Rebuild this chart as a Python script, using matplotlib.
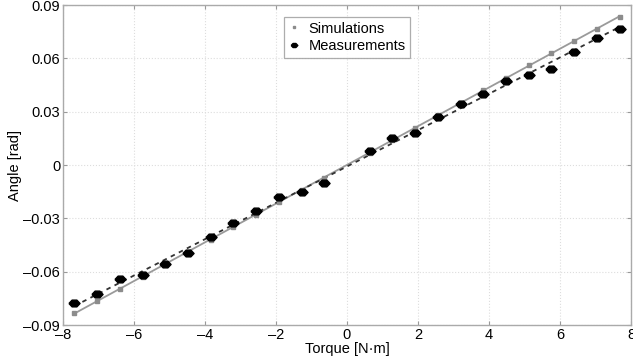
import numpy as np
import matplotlib
matplotlib.use("Agg")
import matplotlib.pyplot as plt

torque = [-7.68, -7.04, -6.40, -5.76, -5.12, -4.48, -3.84, -3.20, -2.56, -1.92, -1.28, -0.64,
          0.64, 1.28, 1.92, 2.56, 3.20, 3.84, 4.48, 5.12, 5.76, 6.40, 7.04, 7.68]
sim_angle = [-0.0831, -0.0763, -0.0696, -0.0628, -0.0556, -0.0487, -0.0420, -0.0350, -0.0280,
             -0.0210, -0.0140, -0.0070, 0.0070, 0.0140, 0.0210, 0.0280, 0.0350, 0.0425,
             0.0490, 0.0562, 0.0630, 0.0700, 0.0763, 0.0834]
meas_angle = [-0.0778, -0.0726, -0.0643, -0.0620, -0.0559, -0.0493, -0.0407, -0.0328, -0.0257,
              -0.0182, -0.0154, -0.0100, 0.0081, 0.0150, 0.0182, 0.0268, 0.0343, 0.0398,
              0.0472, 0.0506, 0.0538, 0.0637, 0.0716, 0.0765]
xticks = [-8, -6, -4, -2, 0, 2, 4, 6, 8]
yticks = [-0.09, -0.06, -0.03, 0, 0.03, 0.06, 0.09]
ytick_labels = ["\u20130.09", "\u20130.06", "\u20130.03", "0", "0.03", "0.06", "0.09"]
xtick_labels = ["\u20138", "\u20136", "\u20134", "\u20132", "0", "2", "4", "6", "8"]

plt.rcParams['font.family'] = ['Liberation Sans', 'DejaVu Sans']

fig = plt.figure(figsize=(6.33, 3.64), dpi=100)
ax = fig.add_axes([0.0995, 0.107, 0.8973, 0.879])

t = np.array(torque)
ps = np.polyfit(t, np.array(sim_angle), 1)
pm = np.polyfit(t, np.array(meas_angle), 1)
xl = np.array([torque[0], torque[-1]])

ax.plot(xl, np.polyval(ps, xl), '-', color='#9a9a9a', lw=1.3, zorder=2)
ax.plot(xl, np.polyval(pm, xl), color='#333333', lw=1.3, ls=(0, (2.5, 2.5)), zorder=2)

wide_diamond = [(-1.4, 0), (-0.6, 0.85), (0.6, 0.85), (1.4, 0), (0.6, -0.85), (-0.6, -0.85), (-1.4, 0)]
ax.plot(torque, sim_angle, 's', color='#8c8c8c', ms=3.5, mec='#8c8c8c', label='Simulations', zorder=3)
ax.plot(torque, meas_angle, marker=wide_diamond, ls='none', color='black', ms=8, label='Measurements', zorder=4)

ax.set_xlim(-8, 8)
ax.set_ylim(-0.09, 0.09)
ax.set_xticks(xticks)
ax.set_xticklabels(xtick_labels)
ax.set_yticks(yticks)
ax.set_yticklabels(ytick_labels)
ax.tick_params(direction='in', top=True, right=True, length=3, color='#999999', labelsize=10.5, pad=2)
ax.grid(True, color='#dddddd', ls=':', lw=0.8)
for s in ax.spines.values():
    s.set_color('#aaaaaa')
    s.set_linewidth(1.0)

ax.set_xlabel('Torque [N\u00b7m]', fontsize=10.5, labelpad=0)
ax.set_ylabel('Angle [rad]', fontsize=10.5, labelpad=1)

leg = ax.legend(loc='upper center', bbox_to_anchor=(0.5, 0.985), fontsize=10.5, frameon=True,
                fancybox=False, edgecolor='#999999', handlelength=0.8, handletextpad=0.6,
                borderpad=0.3, labelspacing=0.25, markerscale=0.6)
leg.get_frame().set_linewidth(0.9)

fig.savefig('out.png', dpi=100)
